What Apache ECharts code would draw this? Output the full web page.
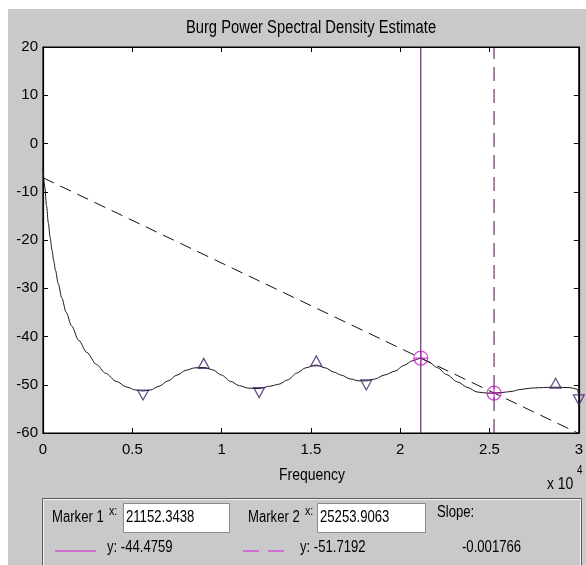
<!DOCTYPE html>
<html>
<head>
<meta charset="utf-8">
<script src="https://cdn.jsdelivr.net/npm/echarts@6/dist/echarts.min.js"></script>
<style>
html,body{margin:0;padding:0;background:#fff;}
#bg{position:absolute;left:8px;top:9px;right:0;bottom:0;background:#c9c9c9;}
#chart{position:absolute;left:0;top:0;width:586px;height:565px;}
</style>
</head>
<body>
<div id="bg"></div>
<div id="chart"></div>
<script>
// ---- data ----
const freq = [0,100,200,300,400,500,600,700,850,1050,1300,1600,2000,2450,3000,3500,4100,4700,5200,5600,6000,6500,7000,7500,8000,8500,9000,9500,10000,10500,11000,11500,12100,12700,13200,13700,14200,14700,15300,15800,16300,16700,17200,17700,18100,18600,19100,19700,20200,20700,21150,21600,22100,22600,23200,23800,24300,24900,25250,25700,26200,26700,27300,27800,28700,29500,29900,30000];
const psd  = [-5,-9,-13,-16.5,-19.5,-22,-24.3,-26.3,-29,-32,-35,-37.8,-40.8,-43.3,-45.8,-47.6,-49.3,-50.5,-51.1,-51.3,-51.1,-50.3,-49.2,-48,-47,-46.5,-46.4,-46.9,-48,-49.3,-50.2,-50.7,-50.8,-50.3,-49.9,-49,-47.6,-46.5,-45.9,-46.5,-47.4,-48,-48.8,-49.2,-49.2,-48.8,-48,-47.2,-46,-45,-44.5,-45.3,-46.5,-47.9,-49.4,-50.6,-51.5,-51.75,-51.7,-51.6,-51.4,-51,-50.7,-50.6,-50.5,-50.6,-50.9,-52.3];
const peakFreq = [9000,15300,28700];
const peakVal  = [-46.4,-45.9,-50.5];
const valleyFreq = [5600,12100,18100,30000];
const valleyVal  = [-51.3,-50.8,-49.2,-52.3];
const marker1 = [21152.3438,-44.4759];
const marker2 = [25253.9063,-51.7192];
const slopeLineX = [0,30000];
const slopeLineY = [-7.1,-60.1];
const slopeText = '-0.001766';
const xTicks = [0,5000,10000,15000,20000,25000,30000];
const yRange = [-60,20];

const FONT = '"Liberation Sans", Arial, sans-serif';
const SX = 0.82; // condensed look of the reference text
const chart = echarts.init(document.getElementById('chart'), null, {renderer:'canvas'});

const tickStyle = {show:true,inside:true,length:5,lineStyle:{color:'#000',width:1}};
const lineAx = {show:true,onZero:false,lineStyle:{color:'#000',width:1.2}};

function txt(x,y,s,size,extra){
  return Object.assign({type:'text',x:x,y:y,scaleX:SX,z:20,
    style:Object.assign({text:s,font:size+'px '+FONT,fill:'#000'},extra||{})});
}

const option = {
  backgroundColor:'transparent',
  animation:false,
  grid:{left:43,top:47,right:4,bottom:132,show:true,backgroundColor:'#fff',borderColor:'#000',borderWidth:1.2},
  xAxis:[
    {type:'value',min:xTicks[0],max:xTicks[xTicks.length-1],interval:5000,position:'bottom',
     axisLine:lineAx,axisTick:tickStyle,splitLine:{show:false},
     axisLabel:{margin:9,color:'#000',fontFamily:'Liberation Sans',fontSize:15,formatter:v=>String(v/10000)}},
    {type:'value',min:xTicks[0],max:xTicks[xTicks.length-1],interval:5000,position:'top',
     axisLine:lineAx,axisTick:tickStyle,splitLine:{show:false},axisLabel:{show:false}}
  ],
  yAxis:[
    {type:'value',min:yRange[0],max:yRange[1],interval:10,position:'left',
     axisLine:lineAx,axisTick:tickStyle,splitLine:{show:false},
     axisLabel:{margin:5,color:'#000',fontFamily:'Liberation Sans',fontSize:15}},
    {type:'value',min:yRange[0],max:yRange[1],interval:10,position:'right',
     axisLine:lineAx,axisTick:tickStyle,splitLine:{show:false},axisLabel:{show:false}}
  ],
  series:[
    {type:'line',data:freq.map((f,i)=>[f,psd[i]]),smooth:0.3,smoothMonotone:'x',showSymbol:false,
     lineStyle:{color:'#1a1a1a',width:1},z:3},
    {type:'line',data:slopeLineX.map((x,i)=>[x,slopeLineY[i]]),showSymbol:false,
     lineStyle:{color:'#111',width:1,type:[12,7]},z:2},
    {type:'line',data:[[marker1[0],yRange[0]],[marker1[0],yRange[1]]],showSymbol:false,
     lineStyle:{color:'#400a40',width:1},z:2},
    {type:'line',data:[[marker2[0],yRange[0]],[marker2[0],yRange[1]]],showSymbol:false,
     lineStyle:{color:'#400a40',width:1,type:[14,8]},z:2},
    {type:'scatter',data:peakFreq.map((f,i)=>[f,peakVal[i]]),symbol:'triangle',symbolSize:[11,10],symbolOffset:[0,-4],
     itemStyle:{color:'rgba(0,0,0,0)',borderColor:'#3e1c66',borderWidth:1.2},z:4},
    {type:'scatter',data:valleyFreq.map((f,i)=>[f,valleyVal[i]]),symbol:'triangle',symbolRotate:180,symbolSize:[11,10],symbolOffset:[0,4],
     itemStyle:{color:'rgba(0,0,0,0)',borderColor:'#3e1c66',borderWidth:1.2},z:4},
    {type:'scatter',data:[marker1,marker2],
     symbol:'path://M0,10A10,10 0 1,1 20,10A10,10 0 1,1 0,10Z M10,0L10,20 M0,10L20,10',symbolSize:14,
     itemStyle:{color:'rgba(0,0,0,0)',borderColor:'#c020c0',borderWidth:1.3},z:5}
  ],
  graphic:[
    txt(311,19,'Burg Power Spectral Density Estimate',18,{textAlign:'center'}),
    txt(312,467,'Frequency',17,{textAlign:'center'}),
    txt(547,476,'x 10',17),
    txt(577,465,'4',12),
    // panel
    {type:'rect',shape:{x:42.5,y:498.5,width:539,height:80},style:{fill:'#c9c9c9',stroke:'#5a5a5a',lineWidth:1}},
    {type:'rect',shape:{x:43.5,y:499.5,width:537,height:78},style:{fill:'none',stroke:'#f2f2f2',lineWidth:1}},
    {type:'rect',shape:{x:123.5,y:503.5,width:106,height:29},style:{fill:'#fff',stroke:'#8a8a8a',lineWidth:1}},
    {type:'rect',shape:{x:317.5,y:503.5,width:108,height:29},style:{fill:'#fff',stroke:'#8a8a8a',lineWidth:1}},
    txt(52,510,'Marker 1',16),
    txt(109,505,'x:',13),
    txt(126,510,marker1[0].toFixed(4),16),
    txt(248,510,'Marker 2',16),
    txt(305,505,'x:',13),
    txt(320,510,marker2[0].toFixed(4),16),
    txt(437,505,'Slope:',16),
    {type:'line',shape:{x1:55,y1:551,x2:96,y2:551},style:{stroke:'#d070d0',lineWidth:2}},
    txt(107,540,'y: '+marker1[1].toFixed(4),16),
    {type:'line',shape:{x1:243,y1:551,x2:284,y2:551},style:{stroke:'#d070d0',lineWidth:2,lineDash:[16,9]}},
    txt(300,540,'y: '+marker2[1].toFixed(4),16),
    txt(462,540,slopeText,16)
  ]
};
chart.setOption(option);
</script>
</body>
</html>
